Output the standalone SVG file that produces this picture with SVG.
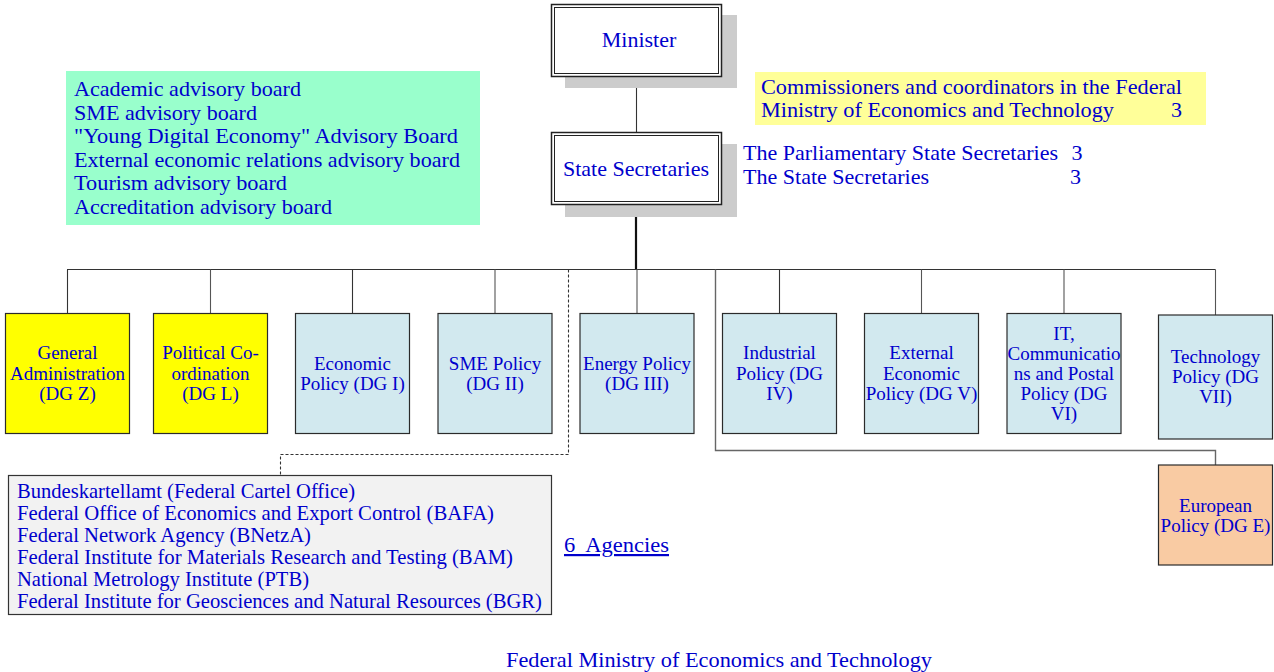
<svg xmlns="http://www.w3.org/2000/svg" width="1274" height="672" viewBox="0 0 1274 672">
<style>
text{font-family:"Liberation Serif","Times New Roman",serif;fill:#0000CC}
.t22{font-size:22px}
.t21{font-size:20.6px}
.n{font-size:19px;text-anchor:middle}
.c{text-anchor:middle}
.node{stroke:#2b2b2b;stroke-width:1.2}
.yel{fill:#FFFF00}
.blu{fill:#D2E9EF}
.eur{fill:#F9CBA3}
.shadow{fill:#CCCCCC}
.conn line,.conn polyline{fill:none;stroke:#333;stroke-width:1.1}
</style>
<rect width="1274" height="672" fill="#FFFFFF"/>

<g id="connectors" class="conn">
<line x1="636.5" y1="76" x2="636.5" y2="132"/>
<line x1="636" y1="204" x2="636" y2="269.5" style="stroke-width:2.2;stroke:#111"/>
<line x1="67" y1="269.5" x2="1215.5" y2="269.5"/>
<line x1="67.5" y1="269.5" x2="67.5" y2="313"/>
<line x1="210.5" y1="269.5" x2="210.5" y2="313" style="stroke:#555"/>
<line x1="352.5" y1="269.5" x2="352.5" y2="313"/>
<line x1="495" y1="269.5" x2="495" y2="313" style="stroke:#555"/>
<line x1="637" y1="269.5" x2="637" y2="313" style="stroke:#555"/>
<line x1="779.5" y1="269.5" x2="779.5" y2="313"/>
<line x1="921.5" y1="269.5" x2="921.5" y2="313" style="stroke:#555"/>
<line x1="1064" y1="269.5" x2="1064" y2="313" style="stroke:#555"/>
<line x1="1215.5" y1="269.5" x2="1215.5" y2="315" style="stroke:#555"/>
<polyline points="715.5,269.5 715.5,450.5 1215.5,450.5 1215.5,465" style="stroke:#666;stroke-width:1.4"/>
<polyline points="568.5,269.5 568.5,454.5 280.5,454.5 280.5,475" style="stroke-dasharray:3 2;stroke:#333"/>
</g>

<g id="minister">
<rect class="shadow" x="565" y="15" width="172" height="73"/>
<rect x="551.5" y="4.5" width="170" height="72" fill="#FFFFFF" stroke="#222" stroke-width="1.5"/>
<rect x="554.5" y="7.5" width="164" height="66" fill="none" stroke="#222" stroke-width="1"/>
<text class="t22 c" x="639" y="47">Minister</text>
</g>

<g id="state-secretaries">
<rect class="shadow" x="565" y="144" width="172" height="73"/>
<rect x="551.5" y="132.5" width="170" height="72" fill="#FFFFFF" stroke="#222" stroke-width="1.5"/>
<rect x="554.5" y="135.5" width="164" height="66" fill="none" stroke="#222" stroke-width="1"/>
<text class="t22 c" x="636" y="176">State Secretaries</text>
</g>

<g id="advisory-boards">
<rect x="66" y="71" width="414" height="154" fill="#99FFCC"/>
<text class="t22" x="74" y="96" textLength="227" lengthAdjust="spacingAndGlyphs">Academic advisory board</text>
<text class="t22" x="74" y="119.6" textLength="183" lengthAdjust="spacingAndGlyphs">SME advisory board</text>
<text class="t22" x="74" y="143.2" textLength="384" lengthAdjust="spacingAndGlyphs">"Young Digital Economy" Advisory Board</text>
<text class="t22" x="74" y="166.8" textLength="386" lengthAdjust="spacingAndGlyphs">External economic relations advisory board</text>
<text class="t22" x="74" y="190.4" textLength="213" lengthAdjust="spacingAndGlyphs">Tourism advisory board</text>
<text class="t22" x="74" y="214" textLength="258" lengthAdjust="spacingAndGlyphs">Accreditation advisory board</text>
</g>

<g id="commissioners">
<rect x="755" y="72" width="451" height="53" fill="#FFFF99"/>
<text class="t22" x="761" y="93.5" textLength="421" lengthAdjust="spacingAndGlyphs">Commissioners and coordinators in the Federal</text>
<text class="t22" x="761" y="117" textLength="353" lengthAdjust="spacingAndGlyphs">Ministry of Economics and Technology</text>
<text class="t22" x="1171" y="117">3</text>
</g>

<g id="secretaries-count">
<text class="t22" x="743" y="160" textLength="315" lengthAdjust="spacingAndGlyphs">The Parliamentary State Secretaries</text>
<text class="t22" x="1071.5" y="160">3</text>
<text class="t22" x="743" y="183.5" textLength="186" lengthAdjust="spacingAndGlyphs">The State Secretaries</text>
<text class="t22" x="1070" y="183.5">3</text>
</g>

<g id="dg-z">
<rect class="node yel" x="5.5" y="313.5" width="124" height="120"/>
<text class="n" x="67.5" y="359.3">General</text>
<text class="n" x="67.5" y="379.8">Administration</text>
<text class="n" x="67.5" y="400.2">(DG Z)</text>
</g>

<g id="dg-l">
<rect class="node yel" x="153.5" y="313.5" width="114" height="120"/>
<text class="n" x="210.5" y="359.3">Political Co-</text>
<text class="n" x="210.5" y="379.8">ordination</text>
<text class="n" x="210.5" y="400.2">(DG L)</text>
</g>

<g id="dg-i">
<rect class="node blu" x="295.5" y="313.5" width="114" height="120"/>
<text class="n" x="352.5" y="369.5">Economic</text>
<text class="n" x="352.5" y="390">Policy (DG I)</text>
</g>

<g id="dg-ii">
<rect class="node blu" x="438" y="313.5" width="114" height="120"/>
<text class="n" x="495" y="369.5">SME Policy</text>
<text class="n" x="495" y="390">(DG II)</text>
</g>

<g id="dg-iii">
<rect class="node blu" x="580" y="313.5" width="114" height="120"/>
<text class="n" x="637" y="369.5">Energy Policy</text>
<text class="n" x="637" y="390">(DG III)</text>
</g>

<g id="dg-iv">
<rect class="node blu" x="722.5" y="313.5" width="114" height="120"/>
<text class="n" x="779.5" y="359.3">Industrial</text>
<text class="n" x="779.5" y="379.8">Policy (DG</text>
<text class="n" x="779.5" y="400.2">IV)</text>
</g>

<g id="dg-v">
<rect class="node blu" x="864.5" y="313.5" width="114" height="120"/>
<text class="n" x="921.5" y="359.3">External</text>
<text class="n" x="921.5" y="379.8">Economic</text>
<text class="n" x="921.5" y="400.2">Policy (DG V)</text>
</g>

<g id="dg-vi">
<rect class="node blu" x="1007" y="313.5" width="114" height="120"/>
<text class="n" x="1064" y="340">IT,</text>
<text class="n" x="1064" y="360">Communicatio</text>
<text class="n" x="1064" y="380">ns and Postal</text>
<text class="n" x="1064" y="400">Policy (DG</text>
<text class="n" x="1064" y="420">VI)</text>
</g>

<g id="dg-vii">
<rect class="node blu" x="1158.5" y="315" width="114" height="124"/>
<text class="n" x="1215.5" y="362.7">Technology</text>
<text class="n" x="1215.5" y="382.7">Policy (DG</text>
<text class="n" x="1215.5" y="402.7">VII)</text>
</g>

<g id="dg-e">
<rect class="node eur" x="1158.5" y="465" width="114" height="100"/>
<text class="n" x="1215.5" y="511.7">European</text>
<text class="n" x="1215.5" y="531.7">Policy (DG E)</text>
</g>

<g id="agencies">
<rect x="8.5" y="475.5" width="543" height="139" fill="#F2F2F2" stroke="#333" stroke-width="1.2"/>
<text class="t21" x="17" y="497.5" textLength="338" lengthAdjust="spacingAndGlyphs">Bundeskartellamt (Federal Cartel Office)</text>
<text class="t21" x="17" y="519.5" textLength="477" lengthAdjust="spacingAndGlyphs">Federal Office of Economics and Export Control (BAFA)</text>
<text class="t21" x="17" y="541.5" textLength="294" lengthAdjust="spacingAndGlyphs">Federal Network Agency (BNetzA)</text>
<text class="t21" x="17" y="563.5" textLength="496" lengthAdjust="spacingAndGlyphs">Federal Institute for Materials Research and Testing (BAM)</text>
<text class="t21" x="17" y="585.5" textLength="292" lengthAdjust="spacingAndGlyphs">National Metrology Institute (PTB)</text>
<text class="t21" x="17" y="607.5" textLength="525" lengthAdjust="spacingAndGlyphs">Federal Institute for Geosciences and Natural Resources (BGR)</text>
</g>

<g id="agency-count">
<text class="t22" x="564" y="552" text-decoration="underline" textLength="105" lengthAdjust="spacingAndGlyphs">6&#160; Agencies</text>
</g>

<g id="title">
<text class="t22" x="506" y="667" textLength="426" lengthAdjust="spacingAndGlyphs">Federal Ministry of Economics and Technology</text>
</g>
</svg>
